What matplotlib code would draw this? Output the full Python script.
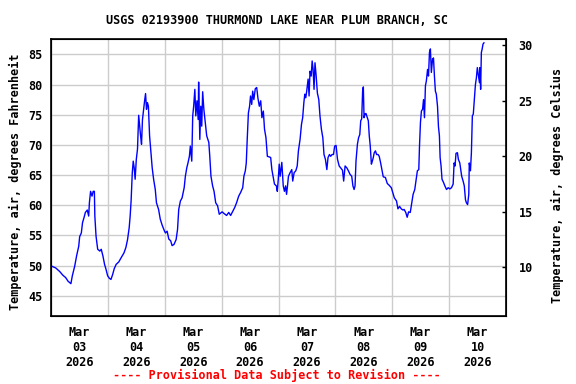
import matplotlib
matplotlib.use("Agg")
import matplotlib.pyplot as plt
import matplotlib.dates as mdates
import pandas as pd

# hours since Mar 03 2026 00:00, air temperature in deg F
hours = [
    0.3, 2, 3.7, 5, 6.2, 7.2, 8.4, 9, 10, 10.8, 11.7, 12.1, 12.8, 13.3, 13.9, 14.5,
    15.3, 15.9, 16.2, 16.7, 17.3, 17.8, 18.3, 18.5, 19, 19.7, 20.6, 21.2, 21.9, 22.6,
    23.2, 23.9, 24.6, 25.3, 26, 26.7, 27.5, 28.6, 29.6, 30.8, 31.6, 32.3, 33, 33.4,
    33.8, 34.3, 34.7, 35.1, 35.5, 36, 36.5, 37, 37.4, 37.8, 38.2, 38.6, 39, 39.5,
    39.9, 40.3, 40.7, 41.1, 41.6, 42.1, 42.7, 43.3, 44, 44.5, 45.4, 46.1, 46.9, 47.9,
    48.3, 49, 49.7, 50.5, 51.1, 51.9, 52.8, 53.4, 53.9, 54.6, 55.3, 56.2, 56.7, 57.3,
    57.8, 58.4, 58.8, 59.4, 59.8, 60.2, 60.7, 61.1, 61.6, 62.1, 62.3, 62.8, 63.2, 63.6,
    64.0, 64.5, 65.1, 65.7, 66.6, 67, 67.5, 68.2, 68.8, 69.5, 70.3, 71.0, 72.2, 73.1,
    74.1, 75, 75.8, 76.7, 77.5, 78.3, 79.2, 80.0, 80.9, 81.4, 82, 82.4, 82.8, 83.3,
    83.8, 84.2, 84.7, 85.1, 85.6, 86.2, 86.8, 87.3, 87.9, 88.5, 89, 89.6, 90.1, 90.7,
    91.3, 92.1, 92.7, 93.2, 93.8, 94.3, 95.1, 95.5, 95.9, 96.3,
    96.7, 97.4, 98, 98.5, 99, 99.4, 99.8, 100.2, 100.9, 101.6, 102, 102.6, 103.3, 103.9,
    104.4, 105.1, 105.7, 106.2, 106.7, 107.1, 107.5, 107.9, 108.5, 108.9, 109.3, 109.8,
    110.2, 110.6, 111, 111.4, 111.9, 112.4, 113, 113.5, 114.1, 114.7, 115.2, 115.8,
    116.4, 116.9, 117.5, 118, 118.6, 119.2, 119.7, 120.3, 120.9, 121.6, 122.2, 123,
    123.5, 124.1, 124.8, 125.5, 126.2, 126.9, 127.4, 127.9, 128.3, 128.7, 129.3, 129.8,
    130.3, 130.7, 131.1, 131.5, 131.8, 132.1, 132.5, 132.9, 133.3, 133.9, 134.3, 134.7,
    135.2, 135.6, 136, 136.4, 136.9, 137.4, 138, 138.5, 139.1, 139.7, 140.2, 141.1,
    141.9, 142.7, 143.6, 144.2, 144.9,
    145.1, 145.8, 146.4, 147.1, 147.8, 148.5, 149, 149.7, 150.3, 150.9, 151.6, 152.1,
    152.8, 153.5, 154.1, 154.6, 155.2, 155.5, 155.9, 156.3, 156.8, 157.2, 157.6, 158,
    158.4, 158.9, 159.3, 159.7, 160.1, 160.5, 161, 161.4, 161.8, 162.2, 162.6, 163.1,
    163.5, 163.9, 164.2, 164.6, 165.0, 165.6, 166.2, 166.9, 167.6, 168.3, 169, 169.7,
    170.1, 170.5, 170.9, 171.5, 171.9, 172.5, 172.9, 173.3, 173.9, 174.4, 174.9, 175.3,
    175.8, 176.3, 176.5, 177, 177.4, 177.8, 178.2, 178.7, 179.1, 179.5, 179.9, 180.3,
    180.8, 181, 181.3, 181.6, 181.9, 182.3, 182.7,
]
temp_f = [
    49.9, 49.6, 49.0, 48.4, 48.0, 47.4, 47.0, 48.3, 49.9, 51.6, 53.2, 54.8, 55.4, 57.1, 57.9, 58.8,
    59.2, 58.2, 60.4, 62.3, 61.5, 62.3, 62.3, 58.2, 54.9, 52.7, 52.4, 52.7, 51.6, 50.2,
    49.4, 48.3, 47.9, 47.7, 48.5, 49.5, 50.2, 50.6, 51.3, 52.1, 53.0, 54.3, 56.3, 58.2,
    60.7, 65.4, 67.3, 66.2, 64.3, 67.6, 69.3, 74.9, 73.1, 71.5, 70.1, 74.2, 75.6, 77.3,
    78.5, 75.9, 77.0, 76.4, 71.5, 69.0, 66.2, 64.3, 62.6, 60.4, 59.3, 57.7, 56.7, 55.7,
    55.4, 55.7, 54.4, 54.1, 53.3, 53.5, 54.3, 56.0, 59.3, 60.7, 61.2, 62.9, 64.8, 66.2,
    67.0, 68.1, 69.8, 67.3, 74.8, 76.4, 79.2, 74.8, 77.3, 74.2, 80.4, 70.9, 76.4, 73.1,
    78.8, 75.9, 73.7, 71.5, 70.4, 68.1, 64.8, 63.2, 62.3, 60.4, 59.9, 58.5, 58.9, 58.6,
    58.3, 58.8, 58.3, 59.0, 59.6, 60.4, 61.5, 62.1, 62.9, 64.8, 65.7, 67.0, 70.9, 75.3,
    76.4, 78.1, 76.7, 78.9, 77.5, 79.3, 79.5, 77.8, 76.4, 77.3, 74.5, 75.6, 72.6, 71.2,
    68.1, 68.0, 67.9, 65.9, 64.6, 63.5, 63.2, 62.3, 64.3, 66.8,
    64.8, 67.1, 63.2, 62.3, 63.2, 61.8, 63.2, 64.8, 65.4, 65.9, 64.0, 65.4, 65.7, 66.5,
    69.0, 70.9, 73.4, 74.5, 77.0, 78.4, 77.8, 78.9, 80.9, 78.1, 82.2, 81.4,
    83.9, 82.5, 79.2, 83.6, 81.4, 78.6, 77.5, 74.8, 72.6, 71.2, 68.4, 67.6,
    65.9, 67.9, 68.4, 68.1, 68.4, 68.4, 69.8, 69.9, 67.6, 66.5, 66.2, 65.8,
    64.0, 66.5, 66.2, 65.7, 65.1, 64.8, 63.2, 62.6, 63.2, 67.3, 70.1, 71.2,
    71.7, 74.0, 74.3, 78.9, 79.6, 74.5, 75.1, 75.2, 74.7, 74.0, 71.5, 69.9,
    66.8, 67.3, 67.9, 68.7, 69.0, 68.4, 68.4, 68.1, 67.0, 65.7, 64.7, 64.6,
    63.6, 63.3, 62.9, 62.1, 61.2,
    61.1, 60.7, 59.4, 59.8, 59.4, 59.2, 59.3, 58.8, 58.0, 58.9, 58.8, 60.1,
    61.8, 62.6, 64.3, 65.7, 65.9, 69.8, 73.7, 75.6, 75.9, 77.5, 74.5, 79.8,
    80.6, 82.5, 81.4, 85.3, 85.9, 82.0, 84.2, 84.4, 81.4, 78.9, 78.4, 76.4,
    73.0, 71.5, 67.9, 66.5, 64.3, 63.8, 63.2, 62.6, 62.9, 62.7, 62.9, 63.5,
    67.0, 66.5, 68.6, 68.7, 67.6, 67.0, 65.9, 64.8, 64.0, 63.2, 60.9, 60.4,
    60.1, 61.8, 67.0, 65.7, 68.7, 74.8, 75.1, 77.8, 80.0, 81.1, 82.8, 81.7,
    80.3, 82.8, 79.2, 85.3, 85.8, 86.7, 86.9,
]

f_ticks = [45, 50, 55, 60, 65, 70, 75, 80, 85]
c_ticks = [10, 15, 20, 25, 30]
day_labels = ["Mar\n03\n2026", "Mar\n04\n2026", "Mar\n05\n2026", "Mar\n06\n2026",
              "Mar\n07\n2026", "Mar\n08\n2026", "Mar\n09\n2026", "Mar\n10\n2026"]

start = pd.Timestamp("2026-03-03")
times = start + pd.to_timedelta(hours, unit="h")
midnights = pd.date_range(start, periods=9, freq="D")
noons = midnights[:-1] + pd.Timedelta(hours=12)

font = dict(family="DejaVu Sans Mono", weight="bold", size=8.5)

fig = plt.figure(figsize=(5.76, 3.84), dpi=100)
ax = fig.add_axes([51 / 576, 1 - 316 / 384, 455 / 576, 277 / 384])

ax.plot(times, temp_f, color="#0000ff", linewidth=1)

ax.set_xlim(midnights[0], midnights[-1])
ax.set_ylim(41.64, 87.54)
ax.set_yticks(f_ticks)
ax.set_yticklabels([str(v) for v in f_ticks], **font)
ax.set_xticks(mdates.date2num(noons))
ax.set_xticklabels(day_labels, **font)
ax.set_xticks(mdates.date2num(midnights), minor=True)
ax.tick_params(axis="x", which="both", length=0, pad=7)
ax.tick_params(axis="y", length=0, pad=6)
ax.grid(True, axis="y", color="#cccccc", linewidth=1)
ax.grid(True, axis="x", which="minor", color="#cccccc", linewidth=1)
ax.set_axisbelow(True)
for s in ax.spines.values():
    s.set_linewidth(1.2)

ax2 = ax.twinx()
ax2.set_ylim(5.62, 30.54)
ax2.set_yticks(c_ticks)
ax2.set_yticklabels([str(v) for v in c_ticks], **font)
ax2.tick_params(axis="y", direction="in", length=3, width=1, pad=9)

fig.text(15 / 576, 1 - 182 / 384, "Temperature, air, degrees Fahrenheit",
         rotation=90, ha="center", va="center", **font)
fig.text(557 / 576, 1 - 185 / 384, "Temperature, air, degrees Celsius",
         rotation=90, ha="center", va="center", **font)
fig.text(277 / 576, 1 - 21 / 384, "USGS 02193900 THURMOND LAKE NEAR PLUM BRANCH, SC",
         ha="center", va="center", **font)
fig.text(277 / 576, 1 - 375 / 384, "---- Provisional Data Subject to Revision ----",
         ha="center", va="center", color="#ff0000", **font)

fig.savefig("out.png", dpi=100)
